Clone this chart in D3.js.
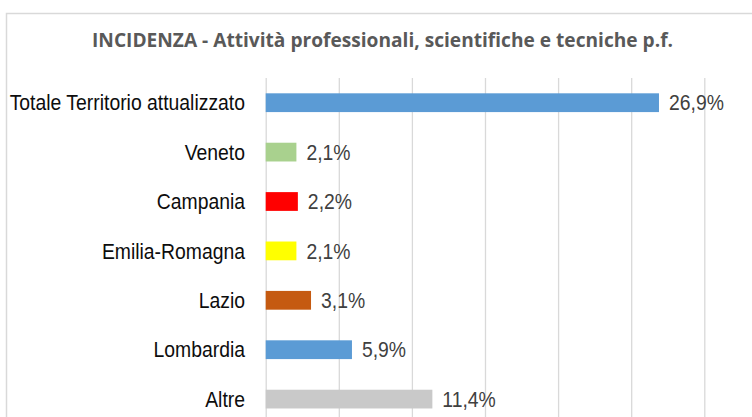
<!DOCTYPE html>
<html>
<head>
<meta charset="utf-8">
<script src="https://cdn.jsdelivr.net/npm/d3@7"></script>
<style>
  html, body { margin: 0; padding: 0; background: #fff; overflow: hidden; }
  svg { display: block; }
</style>
</head>
<body>
<svg id="chart" width="752" height="417"></svg>
<script>
// Incidenza per regione – attività professionali, scientifiche e tecniche
const categories = ["Totale Territorio attualizzato", "Veneto", "Campania", "Emilia-Romagna", "Lazio", "Lombardia", "Altre"];
const values = [26.9, 2.1, 2.2, 2.1, 3.1, 5.9, 11.4];
const barColors = ["#5B9BD5", "#A9D18E", "#FF0000", "#FFFF00", "#C55A11", "#5B9BD5", "#C9C9C9"];
const tickValues = [0, 5, 10, 15, 20, 25, 30];
const title = "INCIDENZA - Attività professionali, scientifiche e tecniche p.f.";

const svg = d3.select("#chart");
const W = 752, H = 417;

// chart frame (extends past the visible window on the right and bottom)
svg.append("rect")
  .attr("x", 6.5).attr("y", 13.5)
  .attr("width", 800).attr("height", 450)
  .attr("fill", "#fff")
  .attr("stroke", "#D9D9D9").attr("stroke-width", 1.5);

// title
svg.append("text")
  .attr("x", 382.5).attr("y", 47)
  .attr("text-anchor", "middle")
  .attr("font-family", "'Open Sans', Lato, sans-serif")
  .attr("font-weight", "bold")
  .attr("font-size", 19.6)
  .attr("fill", "#595959")
  .attr("textLength", 581)
  .attr("lengthAdjust", "spacingAndGlyphs")
  .text(title);

const x = d3.scaleLinear().domain([0, 30]).range([265.7, 704.3]);
const y = d3.scaleBand().domain(categories)
  .range([78, 78 + 49.4 * categories.length])
  .paddingInner(0.62).paddingOuter(0.31);

// vertical gridlines
const grid = d3.axisBottom(x).tickValues(tickValues).tickSize(-(H + 40)).tickFormat("");
svg.append("g")
  .attr("transform", `translate(0,${78 + H + 40})`)
  .call(grid)
  .call(g => g.select(".domain").remove())
  .call(g => g.selectAll(".tick line").attr("stroke", "#D9D9D9").attr("stroke-width", 1.3));

// bars
const data = categories.map((c, i) => ({ c, v: values[i], col: barColors[i] }));
svg.append("g").selectAll("rect").data(data).join("rect")
  .attr("x", x(0))
  .attr("y", d => y(d.c))
  .attr("width", d => x(d.v) - x(0))
  .attr("height", y.bandwidth())
  .attr("fill", d => d.col);

const squeeze = 0.88;
function narrow(sel) {
  sel.each(function () {
    const len = this.getComputedTextLength();
    d3.select(this).attr("textLength", len * squeeze).attr("lengthAdjust", "spacingAndGlyphs");
  });
}

// category labels
svg.append("g").selectAll("text").data(data).join("text")
  .attr("x", 245)
  .attr("y", d => y(d.c) + y.bandwidth() / 2)
  .attr("dy", "0.35em")
  .attr("text-anchor", "end")
  .attr("font-family", "'Liberation Sans', Arial, sans-serif")
  .attr("font-size", 22)
  .attr("fill", "#0d0d0d")
  .text(d => d.c)
  .call(narrow);

// value labels
const fmt = v => v.toFixed(1).replace(".", ",") + "%";
svg.append("g").selectAll("text").data(data).join("text")
  .attr("x", d => x(d.v) + 10)
  .attr("y", d => y(d.c) + y.bandwidth() / 2)
  .attr("dy", "0.35em")
  .attr("font-family", "'Liberation Sans', Arial, sans-serif")
  .attr("font-size", 22)
  .attr("fill", "#404040")
  .text(d => fmt(d.v))
  .call(narrow);
</script>
</body>
</html>
